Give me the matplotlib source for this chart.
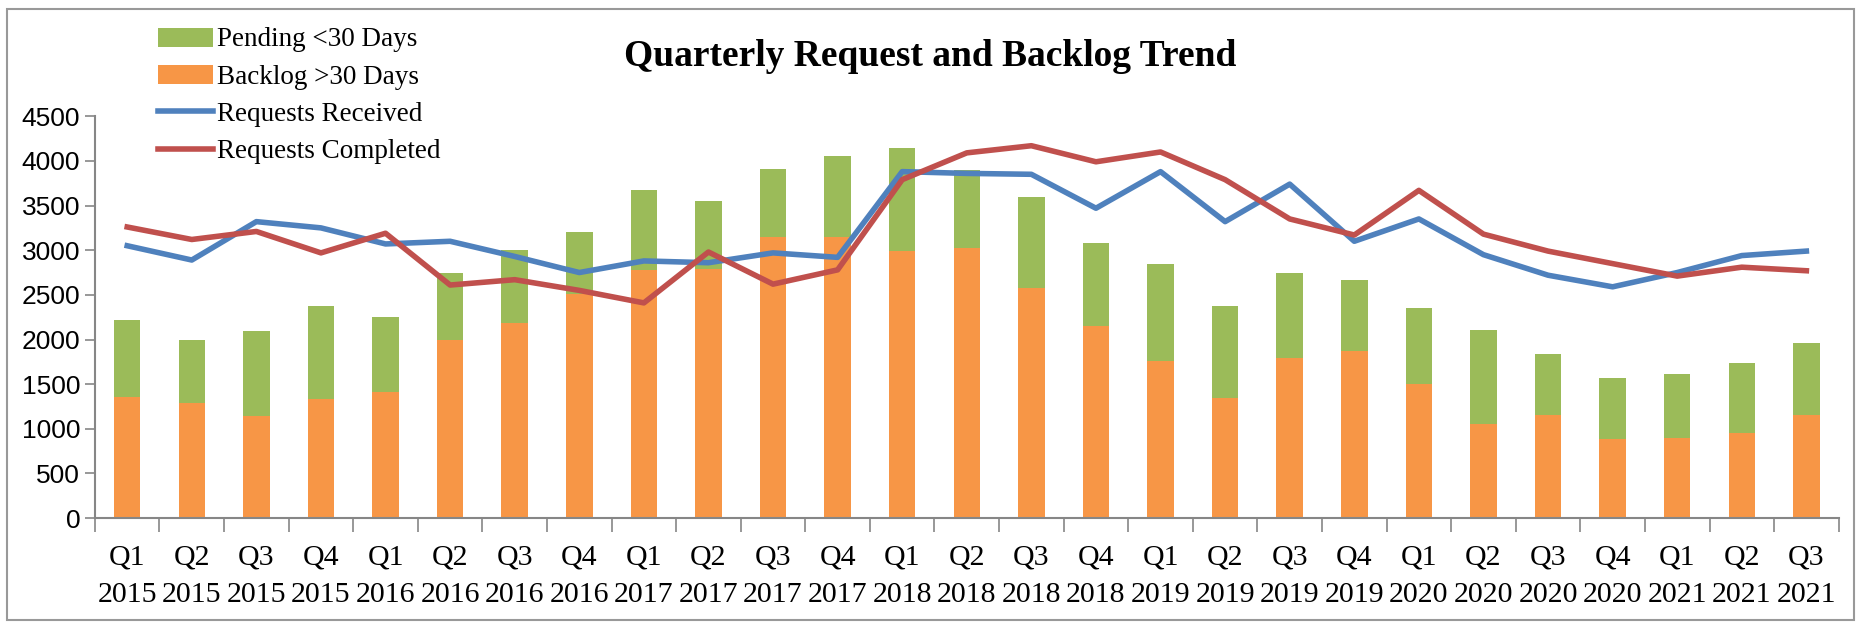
import matplotlib.pyplot as plt
import numpy as np
from matplotlib.patches import Rectangle

quarters = ["Q1", "Q2", "Q3", "Q4"] * 6 + ["Q1", "Q2", "Q3"]
years = [2015] * 4 + [2016] * 4 + [2017] * 4 + [2018] * 4 + [2019] * 4 + [2020] * 4 + [2021] * 3

backlog = [1360, 1290, 1140, 1330, 1410, 2000, 2180, 2510, 2780, 2790, 3150, 3150, 2990, 3030,
           2580, 2150, 1760, 1350, 1790, 1870, 1500, 1050, 1160, 890, 900, 950, 1150]
total = [2220, 1990, 2100, 2380, 2250, 2750, 3000, 3200, 3670, 3550, 3910, 4050, 4140, 3900,
         3600, 3080, 2840, 2370, 2750, 2670, 2350, 2110, 1840, 1570, 1610, 1740, 1960]
received = [3050, 2890, 3320, 3250, 3070, 3100, 2930, 2750, 2880, 2860, 2970, 2920, 3880, 3860,
            3850, 3470, 3880, 3320, 3740, 3100, 3350, 2950, 2720, 2590, 2750, 2940, 2990]
completed = [3260, 3120, 3210, 2970, 3190, 2610, 2670, 2550, 2410, 2980, 2620, 2780, 3790, 4090,
             4170, 3990, 4100, 3790, 3350, 3170, 3670, 3180, 2990, 2850, 2710, 2810, 2770]

pending = [t - b for t, b in zip(total, backlog)]
labels = [q + "\n" + str(y) for q, y in zip(quarters, years)]

serif = "Liberation Serif"

fig = plt.figure(figsize=(18.61, 6.25), dpi=100)
ax = fig.add_axes([0.051, 0.171, 0.937, 0.643])

x = np.arange(len(labels))
w = 0.41
bar_b = ax.bar(x, backlog, w, color="#F79646", zorder=2)
bar_p = ax.bar(x, pending, w, bottom=backlog, color="#9BBB59", zorder=2)
line_r, = ax.plot(x, received, color="#4F81BD", lw=4, zorder=3)
line_c, = ax.plot(x, completed, color="#C0504D", lw=4, zorder=3)

ax.set_ylim(0, 4500)
ax.set_yticks(np.arange(0, 4501, 500))
ax.set_xlim(-0.5, len(labels) - 0.5)
ax.set_xticks(x)
ax.set_xticklabels(labels, fontsize=21.5, family=serif, linespacing=1.55)
ax.set_xticks(np.arange(-0.5, len(labels), 1), minor=True)
ax.tick_params(axis="x", which="major", length=0, pad=19)
ax.tick_params(axis="x", which="minor", length=10, color="#868686", width=1.2)
ax.tick_params(axis="y", length=7, color="#868686", width=1.2, labelsize=19)
for lbl in ax.get_yticklabels():
    lbl.set_family("Liberation Sans")

for s in ["top", "right"]:
    ax.spines[s].set_visible(False)
for s in ["left", "bottom"]:
    ax.spines[s].set_color("#868686")
    ax.spines[s].set_linewidth(1.5)

fig.legend([bar_p, bar_b, line_r, line_c],
           ["Pending <30 Days", "Backlog >30 Days", "Requests Received", "Requests Completed"],
           loc="upper left", bbox_to_anchor=(0.072, 0.995), frameon=False,
           prop={"family": serif, "size": 19.5}, handlelength=2.0, handletextpad=0.15,
           labelspacing=0.45)

fig.text(0.5, 0.91, "Quarterly Request and Backlog Trend", ha="center", va="center",
         fontsize=27, fontweight="bold", family=serif)

fig.patches.append(Rectangle((0.004, 0.008), 0.992, 0.978, transform=fig.transFigure,
                             fill=False, edgecolor="#999999", lw=1.5))

fig.savefig("out.png", dpi=100)
